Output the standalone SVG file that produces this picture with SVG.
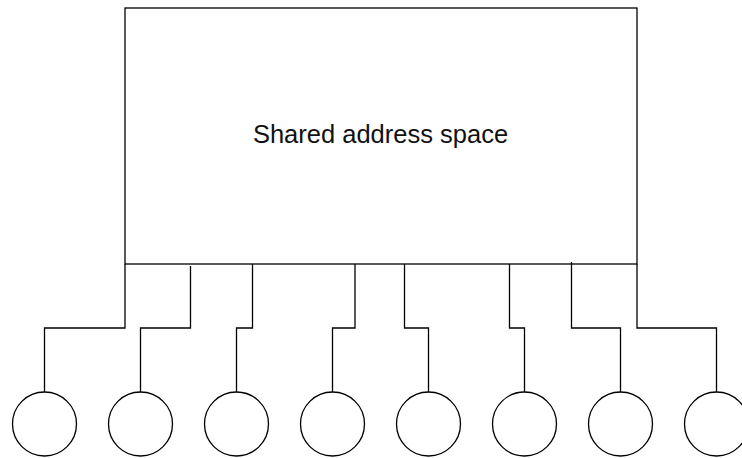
<svg xmlns="http://www.w3.org/2000/svg" width="742" height="458" viewBox="0 0 742 458">
<style>
.s{fill:#fff;stroke:#000;stroke-width:1.3}
.c{fill:none;stroke:#000;stroke-width:1.3}
.t{font-family:"Liberation Sans",Arial,sans-serif;font-size:25.5px;fill:#111}
</style>
<rect width="742" height="458" fill="#fff"/>
<g id="memory">
<rect class="s" x="125" y="8" width="512" height="256"/>
<text class="t" x="380.5" y="143" text-anchor="middle">Shared address space</text>
</g>
<g id="connectors">
<polyline class="c" points="125,264 125,328 44.5,328 44.5,392"/>
<polyline class="c" points="190.5,266 190.5,328 140.5,328 140.5,392"/>
<polyline class="c" points="252.5,264 252.5,328 236.5,328 236.5,392"/>
<polyline class="c" points="355,264 355,328 332.5,328 332.5,392"/>
<polyline class="c" points="404.5,264 404.5,328 428.5,328 428.5,392"/>
<polyline class="c" points="509.5,264 509.5,328 524.5,328 524.5,392"/>
<polyline class="c" points="571.5,262 571.5,328 620.5,328 620.5,392"/>
<polyline class="c" points="637,264 637,328 716.5,328 716.5,392"/>
</g>
<g id="p1"><circle class="s" cx="44.5" cy="424" r="32"/></g>
<g id="p2"><circle class="s" cx="140.5" cy="424" r="32"/></g>
<g id="p3"><circle class="s" cx="236.5" cy="424" r="32"/></g>
<g id="p4"><circle class="s" cx="332.5" cy="424" r="32"/></g>
<g id="p5"><circle class="s" cx="428.5" cy="424" r="32"/></g>
<g id="p6"><circle class="s" cx="524.5" cy="424" r="32"/></g>
<g id="p7"><circle class="s" cx="620.5" cy="424" r="32"/></g>
<g id="p8"><circle class="s" cx="716.5" cy="424" r="32"/></g>
</svg>
